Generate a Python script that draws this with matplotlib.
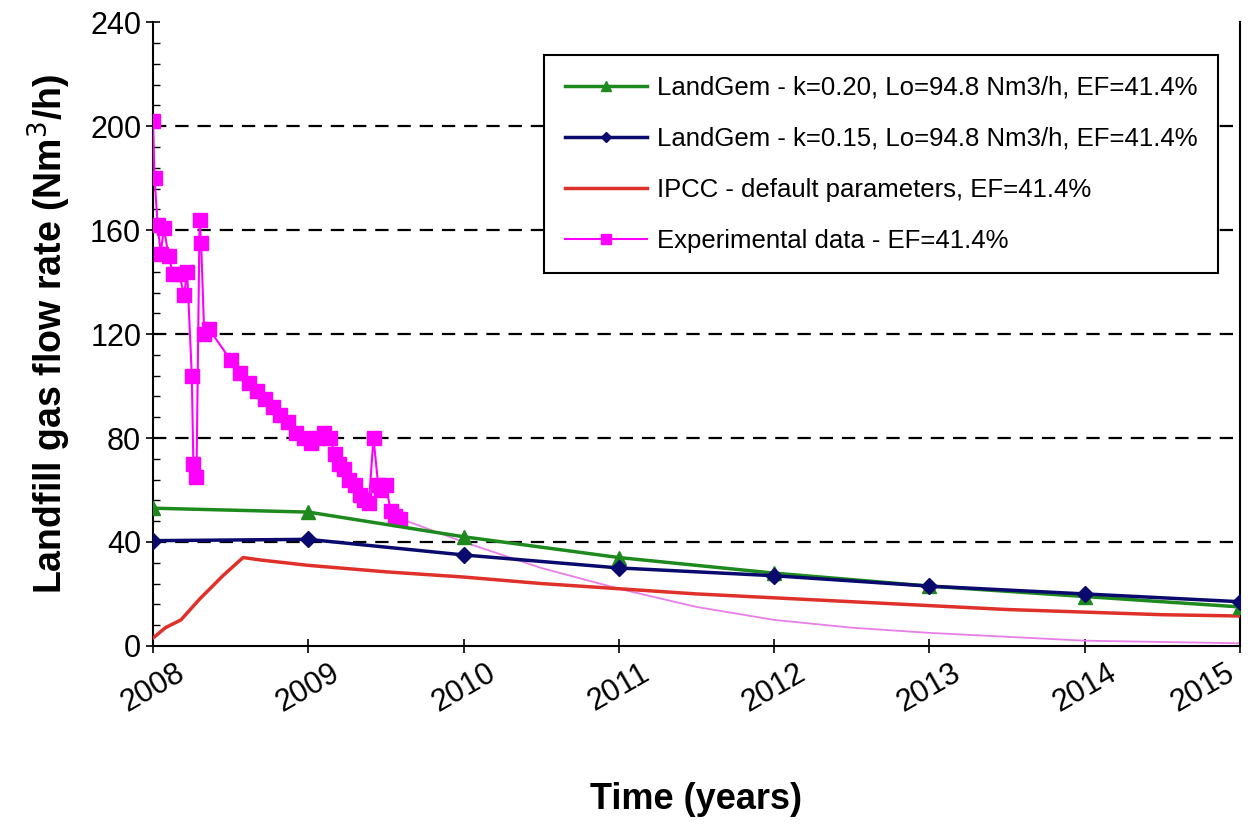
import matplotlib.pyplot as plt
from matplotlib.ticker import MultipleLocator

plt.rcParams['font.family'] = ['Liberation Sans', 'DejaVu Sans']

# 模型曲线 (每年一个点)
years = [2008, 2009, 2010, 2011, 2012, 2013, 2014, 2015]
landgem_k020 = [53, 51.5, 42, 34, 28, 23, 19, 15]
landgem_k015 = [40.5, 41, 35, 30, 27, 23, 20, 17]

# IPCC 曲线
ipcc_years = [2008.0, 2008.08, 2008.18, 2008.3, 2008.45, 2008.58, 2008.7, 2008.85, 2009.0,
              2009.5, 2010.0, 2010.5, 2011.0, 2011.5, 2012.0, 2012.5, 2013.0,
              2013.5, 2014.0, 2014.5, 2015.0]
ipcc_vals = [3, 7, 10, 18, 27, 34, 33, 32, 31,
             28.5, 26.5, 24, 22, 20, 18.5, 17, 15.5, 14, 13, 12, 11.5]

# 实验数据
exp_years = [2008.0, 2008.01, 2008.03, 2008.05, 2008.07, 2008.1, 2008.13, 2008.17, 2008.2,
             2008.22, 2008.25, 2008.26, 2008.28, 2008.3, 2008.31, 2008.33, 2008.36,
             2008.5, 2008.56, 2008.62, 2008.67, 2008.72, 2008.77, 2008.82, 2008.87,
             2008.92, 2008.97, 2009.02, 2009.06, 2009.1, 2009.14, 2009.17, 2009.2,
             2009.23, 2009.26, 2009.3, 2009.33, 2009.36, 2009.39, 2009.42, 2009.45,
             2009.47, 2009.5, 2009.53, 2009.56, 2009.59]
exp_vals = [202, 180, 162, 151, 161, 150, 143, 143, 135,
            144, 104, 70, 65, 164, 155, 120, 122,
            110, 105, 101, 98, 95, 92, 89, 86,
            82, 80, 78, 80, 82, 80, 74, 70,
            68, 64, 62, 58, 56, 55, 80, 62,
            60, 62, 52, 50, 49]

# 实验数据之后的细线
tail_years = [2009.59, 2010.0, 2010.5, 2011.0, 2011.5, 2012.0, 2012.5, 2013.0, 2013.5, 2014.0, 2014.5, 2015.0]
tail_vals = [49, 40, 30, 22, 15, 10, 7, 5, 3.5, 2, 1.5, 1]

labels = ['LandGem - k=0.20, Lo=94.8 Nm3/h, EF=41.4%',
          'LandGem - k=0.15, Lo=94.8 Nm3/h, EF=41.4%',
          'IPCC - default parameters, EF=41.4%',
          'Experimental data - EF=41.4%']

fig = plt.figure(figsize=(12.5, 8.27), dpi=100)
ax = fig.add_axes([0.1224, 0.219, 0.8696, 0.754])

ax.plot(tail_years, tail_vals, color='#e87ee8', linewidth=1.3, zorder=2)
ax.plot(exp_years, exp_vals, color='#ff00ff', linewidth=1.5, marker='s', markersize=10,
        markerfacecolor='#ff00ff', markeredgecolor='#ff00ff', label=labels[3], zorder=3)
ax.plot(ipcc_years, ipcc_vals, color='#e0302a', linewidth=2.5, label=labels[2], zorder=4)
ax.plot(years, landgem_k020, color='#1e8a1e', linewidth=2.5, marker='^', markersize=10, label=labels[0], zorder=5)
ax.plot(years, landgem_k015, color='#0a0a6e', linewidth=2.5, marker='D', markersize=8, label=labels[1], zorder=6)

for yv in [40, 80, 120, 160, 200]:
    ax.axhline(yv, color='black', linewidth=1.6, linestyle=(0, (6, 4)), zorder=1)

ax.set_xlim(2008, 2015)
ax.set_ylim(0, 240)
ax.set_xticks(years)
ax.set_xticklabels([str(y) for y in years], rotation=30, fontsize=22)
ax.get_xticklabels()[-1].set_horizontalalignment('right')
ax.yaxis.set_major_locator(MultipleLocator(40))
ax.yaxis.set_minor_locator(MultipleLocator(8))
ax.tick_params(axis='y', which='major', direction='inout', length=10, labelsize=22, width=1.2)
ax.tick_params(axis='y', which='minor', direction='in', length=5, width=1)
ax.tick_params(axis='x', which='major', direction='inout', length=10, width=1.2, pad=4)
ax.spines['top'].set_visible(False)
for s in ['left', 'bottom', 'right']:
    ax.spines[s].set_linewidth(1.5)

ax.set_xlabel('Time (years)', fontsize=26, fontweight='bold', labelpad=46)
ax.set_ylabel('Landfill gas flow rate (Nm$^3$/h)', fontsize=27, fontweight='bold', labelpad=12)

handles, labs = ax.get_legend_handles_labels()
order = [labs.index(l) for l in labels]
leg = ax.legend([handles[i] for i in order], [labs[i] for i in order],
                loc='upper right', bbox_to_anchor=(0.992, 0.968), fontsize=18.5,
                frameon=True, fancybox=False, shadow=False, edgecolor='black', framealpha=1,
                handlelength=3.2, labelspacing=1.05, borderpad=0.8, markerscale=0.7,
                handletextpad=0.4)
leg.get_frame().set_linewidth(1.5)

plt.savefig('out.png', dpi=100)
